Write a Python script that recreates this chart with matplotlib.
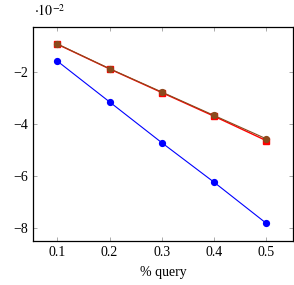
import numpy as np
import matplotlib
matplotlib.use("Agg")
import matplotlib.pyplot as plt

plt.rcParams['font.family'] = ['Liberation Serif', 'DejaVu Serif']
plt.rcParams['mathtext.fontset'] = 'stix'

# values in units of 1e-2
query = [0.1, 0.2, 0.3, 0.4, 0.5]
blue_vals = [-1.57, -3.14, -4.71, -6.23, -7.81]
red_vals = [-0.92, -1.87, -2.78, -3.69, -4.63]
brown_vals = [-0.91, -1.86, -2.76, -3.66, -4.56]

fig = plt.figure(figsize=(2.94, 2.85), dpi=100)
ax = fig.add_axes([0.1133, 0.1544, 0.8823, 0.7519])

ax.plot(query, blue_vals, color='blue', lw=0.8, marker='o', ms=4.2)
ax.plot(query, red_vals, color='red', lw=1.0, marker='s', ms=4.2)
ax.plot(query, brown_vals, color='#8b4a1c', lw=0.8, marker='o', ms=4.2)

ax.set_xlim(0.054, 0.5505)
ax.set_ylim(-8.49, -0.246)
ax.set_xticks(query)
ax.set_xticklabels(['0.1', '0.2', '0.3', '0.4', '0.5'])
ax.set_yticks([-8, -6, -4, -2])
ax.set_yticklabels(['\u22128', '\u22126', '\u22124', '\u22122'])
ax.tick_params(direction='in', top=True, right=True, length=3, width=0.5,
               labelsize=10, color='#888888')
for s in ax.spines.values():
    s.set_linewidth(0.9)
ax.set_xlabel('% query', fontsize=10, labelpad=5)
fig.text(0.115, 0.935, r'$\cdot 10^{-2}$', fontsize=10, ha='left', va='bottom')

fig.savefig('out.png', dpi=100)
